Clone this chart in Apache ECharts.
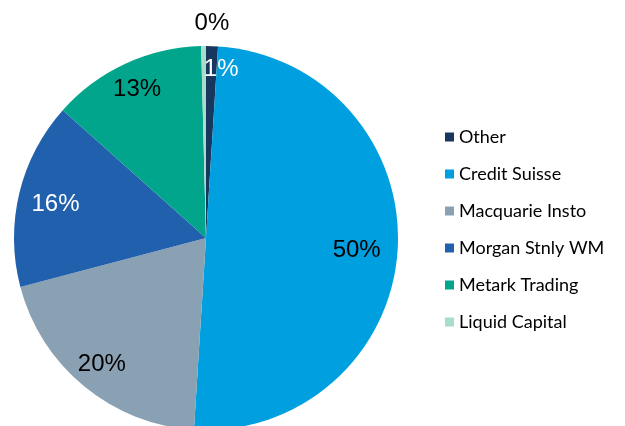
<!DOCTYPE html>
<html>
<head>
<meta charset="utf-8">
<script src="https://cdn.jsdelivr.net/npm/echarts@6/dist/echarts.min.js"></script>
<style>
  html, body { margin: 0; padding: 0; background: #fff; }
  #chart { width: 625px; height: 426px; }
</style>
</head>
<body>
<div id="chart"></div>
<script>
// 数据
var names = ["Other", "Credit Suisse", "Macquarie Insto", "Morgan Stnly WM", "Metark Trading", "Liquid Capital"];
var values = [1.0, 50.0, 19.9, 15.7, 13.0, 0.4];

var colors = ["#17375e", "#009fdf", "#8aa1b4", "#2160ad", "#00a58c", "#a8dccb"];
var whiteLabel = { "Other": true, "Morgan Stnly WM": true };

(function () {
    var mycharts = echarts.init(document.getElementById('chart'));

    var pieData = names.map(function (n, i) {
        return { name: n, value: values[i], itemStyle: { color: colors[i] } };
    });
    // 标签用的透明环
    var labelData = names.map(function (n, i) {
        return {
            name: n,
            value: values[i],
            label: { color: whiteLabel[n] ? '#ffffff' : '#000000' }
        };
    });

    var option = {
        animation: false,
        legend: {
            orient: 'vertical',
            left: 440,
            top: 123,
            itemWidth: 9,
            itemHeight: 9,
            itemGap: 19,
            icon: 'rect',
            selectedMode: false,
            data: names,
            textStyle: {
                fontFamily: 'Lato',
                fontSize: 18,
                lineHeight: 18,
                color: '#000'
            }
        },
        series: [
            {
                type: 'pie',
                center: [206, 238],
                radius: [0, 192],
                startAngle: 90,
                clockwise: true,
                avoidLabelOverlap: false,
                silent: true,
                itemStyle: { borderWidth: 0 },
                label: { show: false },
                labelLine: { show: false },
                data: pieData
            },
            {
                type: 'pie',
                center: [206, 238],
                radius: [130, 192],
                startAngle: 90,
                clockwise: true,
                avoidLabelOverlap: false,
                silent: true,
                legendHoverLink: false,
                itemStyle: { color: 'rgba(0,0,0,0)', borderWidth: 0 },
                label: {
                    show: true,
                    position: 'inside',
                    fontFamily: 'Liberation Sans',
                    fontSize: 24,
                    formatter: function (p) {
                        return Math.round(p.percent) + '%';
                    }
                },
                labelLine: { show: false },
                labelLayout: function (p) {
                    if (p.dataIndex === 5) return { dx: 8, dy: -51 };
                    if (p.dataIndex === 0) return { dx: 10, dy: -5 };
                    if (p.dataIndex === 1) return { dx: -13, dy: 2 };
                    if (p.dataIndex === 3) return { dx: 9, dy: 5 };
                },
                data: labelData
            }
        ]
    };

    mycharts.setOption(option);
    window.addEventListener('resize', function () {
        mycharts.resize();
    });
})();
</script>
</body>
</html>
